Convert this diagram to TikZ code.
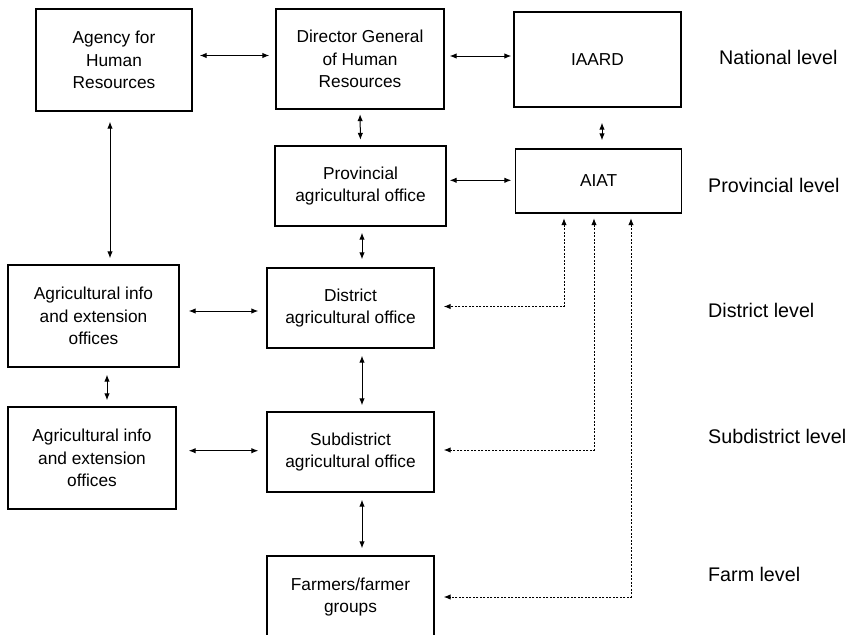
\documentclass[tikz,border=0pt]{standalone}
\usepackage{fontspec}
\setmainfont{Liberation Sans}
\usetikzlibrary{arrows.meta,positioning}

\begin{document}
\begin{tikzpicture}[x=1pt,y=-1pt,>={Latex[length=7pt,width=5.5pt]}]
        \tikzset{block/.style= {draw, rectangle, line width=1.4pt, align=center, inner sep=0pt,
                font=\fontsize{17.3}{22.5}\selectfont},
        link/.style={<->, line width=1pt, shorten <=6pt, shorten >=6pt},
        dotlink/.style={<->, line width=1pt, dash pattern=on 2pt off 1.5pt,
                shorten <=4.5pt, shorten >=9pt},
        levellabel/.style={anchor=base west, inner sep=0pt, font=\fontsize{19.7}{24}\selectfont},
        }
        \useasboundingbox (0,0) rectangle (855,635);
%% national level
        \node [block, minimum width=156pt, minimum height=102pt] (agency) at (114,60) {Agency for\\Human\\Resources};
        \node [block, minimum width=168pt, minimum height=100pt] (dg) at (360,59) {Director General\\of Human\\Resources};
        \node [block, minimum width=167pt, minimum height=95pt] (iaard) at (597.5,59.5) {IAARD};
%% provincial level
        \node [block, minimum width=171pt, minimum height=80pt] (prov) at (360.5,186) {Provincial\\agricultural office};
        \node [block, minimum width=166pt, minimum height=64pt] (aiat) at (598.7,181) {AIAT};
%% district and below
        \node [block, minimum width=171pt, minimum height=102pt] (info1) at (93.5,316) {Agricultural info\\and extension\\offices};
        \node [block, minimum width=167pt, minimum height=80pt] (district) at (350.5,308) {District\\agricultural office};
        \node [block, minimum width=168pt, minimum height=102pt] (info2) at (92,458) {Agricultural info\\and extension\\offices};
        \node [block, minimum width=167pt, minimum height=80pt] (subd) at (350.5,452) {Subdistrict\\agricultural office};
        \node [block, minimum width=167pt, minimum height=82pt] (farmers) at (350.5,597) {Farmers/farmer\\groups};
%% levels
        \node [levellabel] (national) at (719,64) {National level};
        \node [levellabel] (provincial) at (708,192.7) {Provincial level};
        \node [levellabel] (districtlvl) at (708,317) {District level};
        \node [levellabel] (subdistrictlvl) at (708,443.3) {Subdistrict level};
        \node [levellabel] (farm) at (708,581.7) {Farm level};
%% paths
        \draw[link, shorten <=7pt] ([yshift=4.5pt]agency.east) -- ([yshift=3.5pt]dg.west);
        \draw[link, shorten <=5pt, shorten >=2pt] ([yshift=3pt]dg.east) -- ([yshift=3.5pt]iaard.west);
        \draw[link, shorten <=4.5pt, shorten >=5.5pt] (dg.south) -- (prov.north);
        \draw[link, shorten <=15pt, shorten >=8pt] ([xshift=4.5pt]iaard.south) -- ([xshift=3.3pt]aiat.north);
        \draw[link, shorten <=3pt, shorten >=3.7pt] ([yshift=5.7pt]prov.east) -- ([yshift=0.7pt]aiat.west);
        \draw[link, shorten <=10pt] ([xshift=-4pt]agency.south) -- ([xshift=16.5pt]info1.north);
        \draw[link, shorten >=8pt] ([xshift=1.5pt]prov.south) -- ([xshift=11.5pt]district.north);
        \draw[link, shorten <=7pt] ([xshift=11.5pt]district.south) -- ([xshift=11.5pt]subd.north);
        \draw[link, shorten <=7pt, shorten >=7pt] ([xshift=11.5pt]subd.south) -- ([xshift=11.5pt]farmers.north);
        \draw[link, shorten <=7pt] ([xshift=13.5pt]info1.south) -- ([xshift=15pt]info2.north);
        \draw[link, shorten <=9pt, shorten >=8pt] ([yshift=5pt]info1.east) -- ([yshift=-3pt]district.west);
        \draw[link, shorten <=12pt, shorten >=8pt] ([yshift=7.3pt]info2.east) -- ([yshift=1.3pt]subd.west);
        \draw[dotlink] ([xshift=-34.7pt]aiat.south) |- ([yshift=1.5pt]district.east);
        \draw[dotlink] ([xshift=-4.7pt]aiat.south) |- ([yshift=2pt]subd.east);
        \draw[dotlink] ([xshift=32.3pt]aiat.south) |- (farmers.east);
    \end{tikzpicture}
\end{document}
